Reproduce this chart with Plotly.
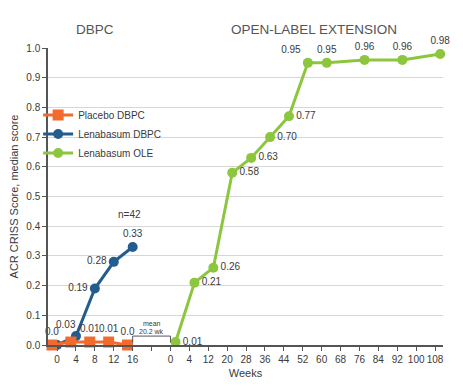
import plotly.graph_objects as go

# ---- data ----
dbpc_weeks = [0, 4, 8, 12, 16]
ole_weeks = [0, 4, 12, 20, 28, 36, 44, 52, 60, 68, 76, 84, 92, 100, 108]

placebo_weeks = [0, 4, 8, 12, 16]
placebo_vals = [0.0, 0.01, 0.01, 0.01, 0.0]
placebo_text = ["0.0", "", "0.01", "0.01", "0.0"]

lena_dbpc_weeks = [0, 4, 8, 12, 16]
lena_dbpc_vals = [0.0, 0.03, 0.19, 0.28, 0.33]
lena_dbpc_text = ["", "0.03", "0.19", "0.28", "0.33"]

ole_pt_weeks = [0, 4, 12, 20, 28, 36, 44, 52, 60, 76, 92, 108]
ole_vals = [0.01, 0.21, 0.26, 0.58, 0.63, 0.70, 0.77, 0.95, 0.95, 0.96, 0.96, 0.98]
ole_text = ["0.01", "0.21", "0.26", "0.58", "0.63", "0.70", "0.77", "0.95", "0.95", "0.96", "0.96", "0.98"]

y_ticks = [0.0, 0.1, 0.2, 0.3, 0.4, 0.5, 0.6, 0.7, 0.8, 0.9, 1.0]

# ---- slot mapping (categorical-like weeks axis) ----
gap = 1
dbpc_slot = {w: i for i, w in enumerate(dbpc_weeks)}
ole_start = len(dbpc_weeks) + gap
ole_slot = {w: ole_start + i for i, w in enumerate(ole_weeks)}

tickvals = list(range(len(dbpc_weeks))) + [len(dbpc_weeks)] + [ole_slot[w] for w in ole_weeks]
ticktext = [str(w) for w in dbpc_weeks] + [""] + [str(w) for w in ole_weeks]

ORANGE = "#F26A2E"
BLUE = "#235C8E"
GREEN = "#8CC63F"
TXT = "#3a3a3a"
FONT = "Liberation Sans, Arial, sans-serif"

fig = go.Figure()

# blue labels: week-4 label drawn as an annotation so it can sit just above-left
blue_trace_text = [t if i != 1 else "" for i, t in enumerate(lena_dbpc_text)]
fig.add_trace(go.Scatter(
    x=[dbpc_slot[w] for w in lena_dbpc_weeks], y=lena_dbpc_vals,
    mode="lines+markers+text", name="Lenabasum DBPC", legendrank=2,
    line=dict(color=BLUE, width=3),
    marker=dict(symbol="circle", size=10, color=BLUE),
    text=blue_trace_text,
    textposition=["top left", "top center", "middle left", "middle left", "top center"],
    textfont=dict(size=10, color=TXT, family=FONT), cliponaxis=False,
))
fig.add_annotation(x=dbpc_slot[lena_dbpc_weeks[1]], y=lena_dbpc_vals[1], text=lena_dbpc_text[1],
                   showarrow=False, xanchor="right", yanchor="bottom", xshift=2, yshift=4,
                   font=dict(size=10, color=TXT, family=FONT))

fig.add_trace(go.Scatter(
    x=[dbpc_slot[w] - 0.27 for w in placebo_weeks], y=placebo_vals,
    mode="lines+markers+text", name="Placebo DBPC", legendrank=1,
    line=dict(color=ORANGE, width=3),
    marker=dict(symbol="square", size=11, color=ORANGE),
    text=placebo_text, textposition="top center",
    textfont=dict(size=10, color=TXT, family=FONT), cliponaxis=False,
))

fig.add_trace(go.Scatter(
    x=[ole_slot[w] + 0.27 for w in ole_pt_weeks], y=ole_vals,
    mode="lines+markers+text", name="Lenabasum OLE", legendrank=3,
    line=dict(color=GREEN, width=3),
    marker=dict(symbol="circle", size=10, color=GREEN),
    text=ole_text,
    textposition=["middle right"] * 7 + ["top left", "top center", "top center", "top center", "top center"],
    textfont=dict(size=10, color=TXT, family=FONT), cliponaxis=False,
))

# bracket for mean gap
b0, b1 = len(dbpc_weeks) - 1, ole_start
fig.add_shape(type="path",
              path=f"M {b0},0.008 L {b0},0.03 L {b1},0.03 L {b1},0.008",
              line=dict(color="#555555", width=1), xref="x", yref="y")
fig.add_annotation(x=(b0 + b1) / 2, y=0.074, text="mean", showarrow=False,
                   font=dict(size=7, color=TXT, family=FONT))
fig.add_annotation(x=(b0 + b1) / 2, y=0.047, text="20.2 wk", showarrow=False,
                   font=dict(size=7, color=TXT, family=FONT))
fig.add_annotation(x=dbpc_slot[16] - 0.15, y=0.44, text="n=42", showarrow=False,
                   font=dict(size=10, color=TXT, family=FONT))

# section headers
fig.add_annotation(x=2, y=1.03, xref="x", yref="paper", yanchor="bottom", text="DBPC",
                   showarrow=False, font=dict(size=13.5, color="#555555", family=FONT))
fig.add_annotation(x=ole_slot[52] + 0.6, y=1.03, xref="x", yref="paper", yanchor="bottom",
                   text="OPEN-LABEL EXTENSION",
                   showarrow=False, font=dict(size=13.5, color="#555555", family=FONT))

fig.update_layout(
    width=455, height=382,
    margin=dict(l=40, r=20, t=40, b=45, autoexpand=False),
    paper_bgcolor="white", plot_bgcolor="white",
    font=dict(family=FONT, size=10, color=TXT),
    showlegend=True,
    legend=dict(x=-0.025, y=0.823, xanchor="left", yanchor="top",
                bgcolor="rgba(0,0,0,0)", font=dict(size=10, color=TXT),
                itemwidth=30, tracegroupgap=0),
    xaxis=dict(range=[-0.48, 20.42], tickvals=tickvals, ticktext=ticktext,
               showgrid=False, zeroline=False, showline=True, linecolor="#555555",
               linewidth=1.5, ticks="outside", ticklen=4, tickcolor="#555555",
               tickangle=0, automargin=False,
               tickfont=dict(size=10, color=TXT),
               title=dict(text="Weeks", font=dict(size=11, color=TXT), standoff=6)),
    yaxis=dict(range=[0, 1.0], tickvals=y_ticks, ticktext=[f"{v:.1f}" for v in y_ticks],
               showgrid=True, gridcolor="#d6d6d6", zeroline=False, automargin=False,
               showline=True, linecolor="#555555", linewidth=1.5,
               ticks="outside", ticklen=4, tickcolor="#555555",
               tickfont=dict(size=10, color=TXT),
               title=dict(text="ACR CRISS Score, median score", font=dict(size=11, color=TXT),
                          standoff=6)),
)

fig.write_html("out.html")
